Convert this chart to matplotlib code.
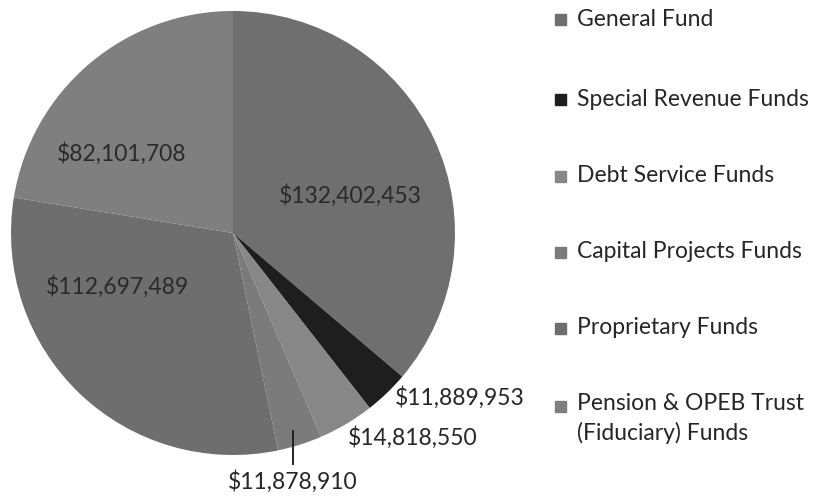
import matplotlib.pyplot as plt
from matplotlib.patches import Rectangle

# Fund balances (clockwise from 12 o'clock)
funds = ["General Fund", "Special Revenue Funds", "Debt Service Funds",
         "Capital Projects Funds", "Proprietary Funds",
         "Pension & OPEB Trust\n(Fiduciary) Funds"]
amounts = [132402453, 11889953, 14818550, 11878910, 112697489, 82101708]
colors = ["#6f6f6f", "#1e1e1e", "#878787", "#7b7b7b", "#6e6e6e", "#7f7f7f"]

plt.rcParams['font.family'] = ['Lato', 'DejaVu Sans']

fig = plt.figure(figsize=(8.19, 4.96), dpi=100)
W, H = 819, 496
cx, cy, r = 233, 233, 222
ax = fig.add_axes([(cx - r) / W, 1 - (cy + r) / H, 2 * r / W, 2 * r / H])

wedges, _ = ax.pie(amounts, colors=colors, startangle=90, counterclock=False,
                   radius=1, wedgeprops=dict(linewidth=0))
ax.set_xlim(-1, 1)
ax.set_ylim(-1, 1)
ax.axis('off')

labels = [f"${v:,.0f}" for v in amounts]
# label positions in axes data units
inside = {0: (0.53, 0.17), 4: (-0.52, -0.24), 5: (-0.50, 0.36)}
outside = {1: (1.02, -0.74), 2: (0.81, -0.92), 3: (0.27, -1.12)}
for i, (x, y) in inside.items():
    ax.text(x, y, labels[i], ha='center', va='center', fontsize=16.5,
            color='#2a2a2a')
for i, (x, y) in outside.items():
    ax.text(x, y, labels[i], ha='center', va='center', fontsize=16.5,
            color='#262626', clip_on=False)
ax.plot([0.27, 0.27], [-0.89, -1.04], color='#222222', lw=1.4, clip_on=False)

# legend
ys = [19, 99, 176, 252, 328, 406]
for name, col, y in zip(funds, colors, ys):
    fig.patches.append(Rectangle((555 / W, 1 - (y + 6) / H), 11 / W, 11 / H,
                                 color=col, transform=fig.transFigure))
    if '\n' in name:
        fig.text(577 / W, 1 - (y - 13) / H, name, ha='left', va='top',
                 fontsize=16.5, color='#262626', linespacing=1.45)
    else:
        fig.text(577 / W, 1 - y / H, name, ha='left', va='center',
                 fontsize=16.5, color='#262626')

fig.savefig('out.png', dpi=100)
